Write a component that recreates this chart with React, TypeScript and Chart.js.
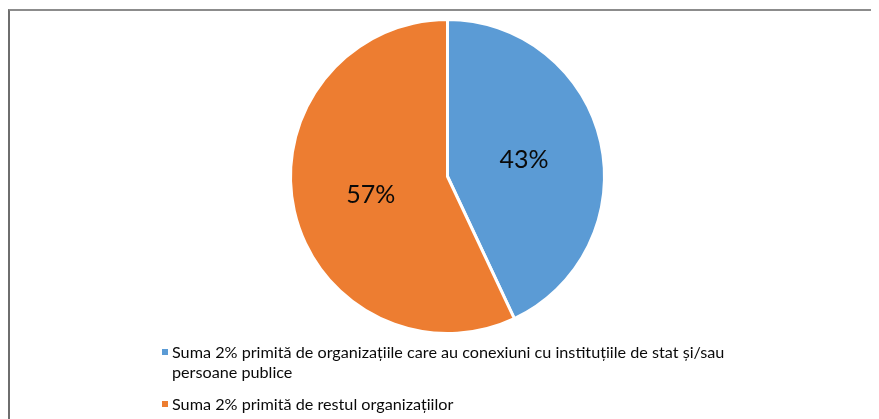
import React, { useEffect, useRef } from "react";
import { Chart, registerables } from "chart.js";

Chart.register(...registerables);

const categories: string[] = [
  "Suma 2% primită de organizațiile care au conexiuni cu instituțiile de stat și/sau persoane publice",
  "Suma 2% primită de restul organizațiilor",
];
const shares: number[] = [43, 57];
const valueLabels: string[] = ["43%", "57%"];
const colors: string[] = ["#5B9BD5", "#ED7D31"];

const labelPlugin = {
  id: "sliceLabels",
  afterDatasetsDraw(chart: any) {
    const meta = chart.getDatasetMeta(0);
    const ctx = chart.ctx;
    ctx.save();
    ctx.font = '25px Lato, "Open Sans", sans-serif';
    ctx.fillStyle = "#0a0a0a";
    ctx.textAlign = "center";
    ctx.textBaseline = "middle";
    meta.data.forEach((arc: any, i: number) => {
      const p = arc.getCenterPoint();
      ctx.fillText(valueLabels[i], p.x, p.y + 1);
    });
    ctx.restore();
  },
};

export default function App() {
  const ref = useRef<HTMLCanvasElement | null>(null);
  useEffect(() => {
    if (!ref.current) return;
    const chart = new Chart(ref.current, {
      type: "pie",
      data: {
        labels: categories,
        datasets: [
          {
            data: shares,
            backgroundColor: colors,
            borderColor: "#ffffff",
            borderWidth: 3,
          },
        ],
      },
      options: {
        responsive: false,
        animation: false,
        devicePixelRatio: 1,
        rotation: 0,
        layout: { padding: { top: 7, left: 279, right: 273, bottom: 84 } },
        plugins: {
          legend: { display: false },
          tooltip: { enabled: false },
        },
      },
      plugins: [labelPlugin],
    });
    return () => chart.destroy();
  }, []);

  return (
    <div
      style={{
        position: "relative",
        marginTop: 1,
        width: 871,
        height: 410,
        borderTop: "2px solid #8c8c8c",
        borderLeft: "2px solid #6e6e6e",
        boxSizing: "border-box",
        overflow: "hidden",
        fontFamily: 'Lato, "Open Sans", sans-serif',
      }}
    >
      <canvas ref={ref} width={869} height={408} style={{ display: "block" }} />
      <div
        style={{
          position: "absolute",
          left: 152,
          top: 331,
          width: 600,
          fontSize: 16.2,
          lineHeight: "20px",
          color: "#0a0a0a",
        }}
      >
        {categories.map((c, i) => (
          <div
            key={i}
            style={{ position: "relative", paddingLeft: 10, marginBottom: 12 }}
          >
            <span
              style={{
                position: "absolute",
                left: 0,
                top: 7,
                width: 6,
                height: 6,
                background: colors[i],
              }}
            />
            {c}
          </div>
        ))}
      </div>
    </div>
  );
}
